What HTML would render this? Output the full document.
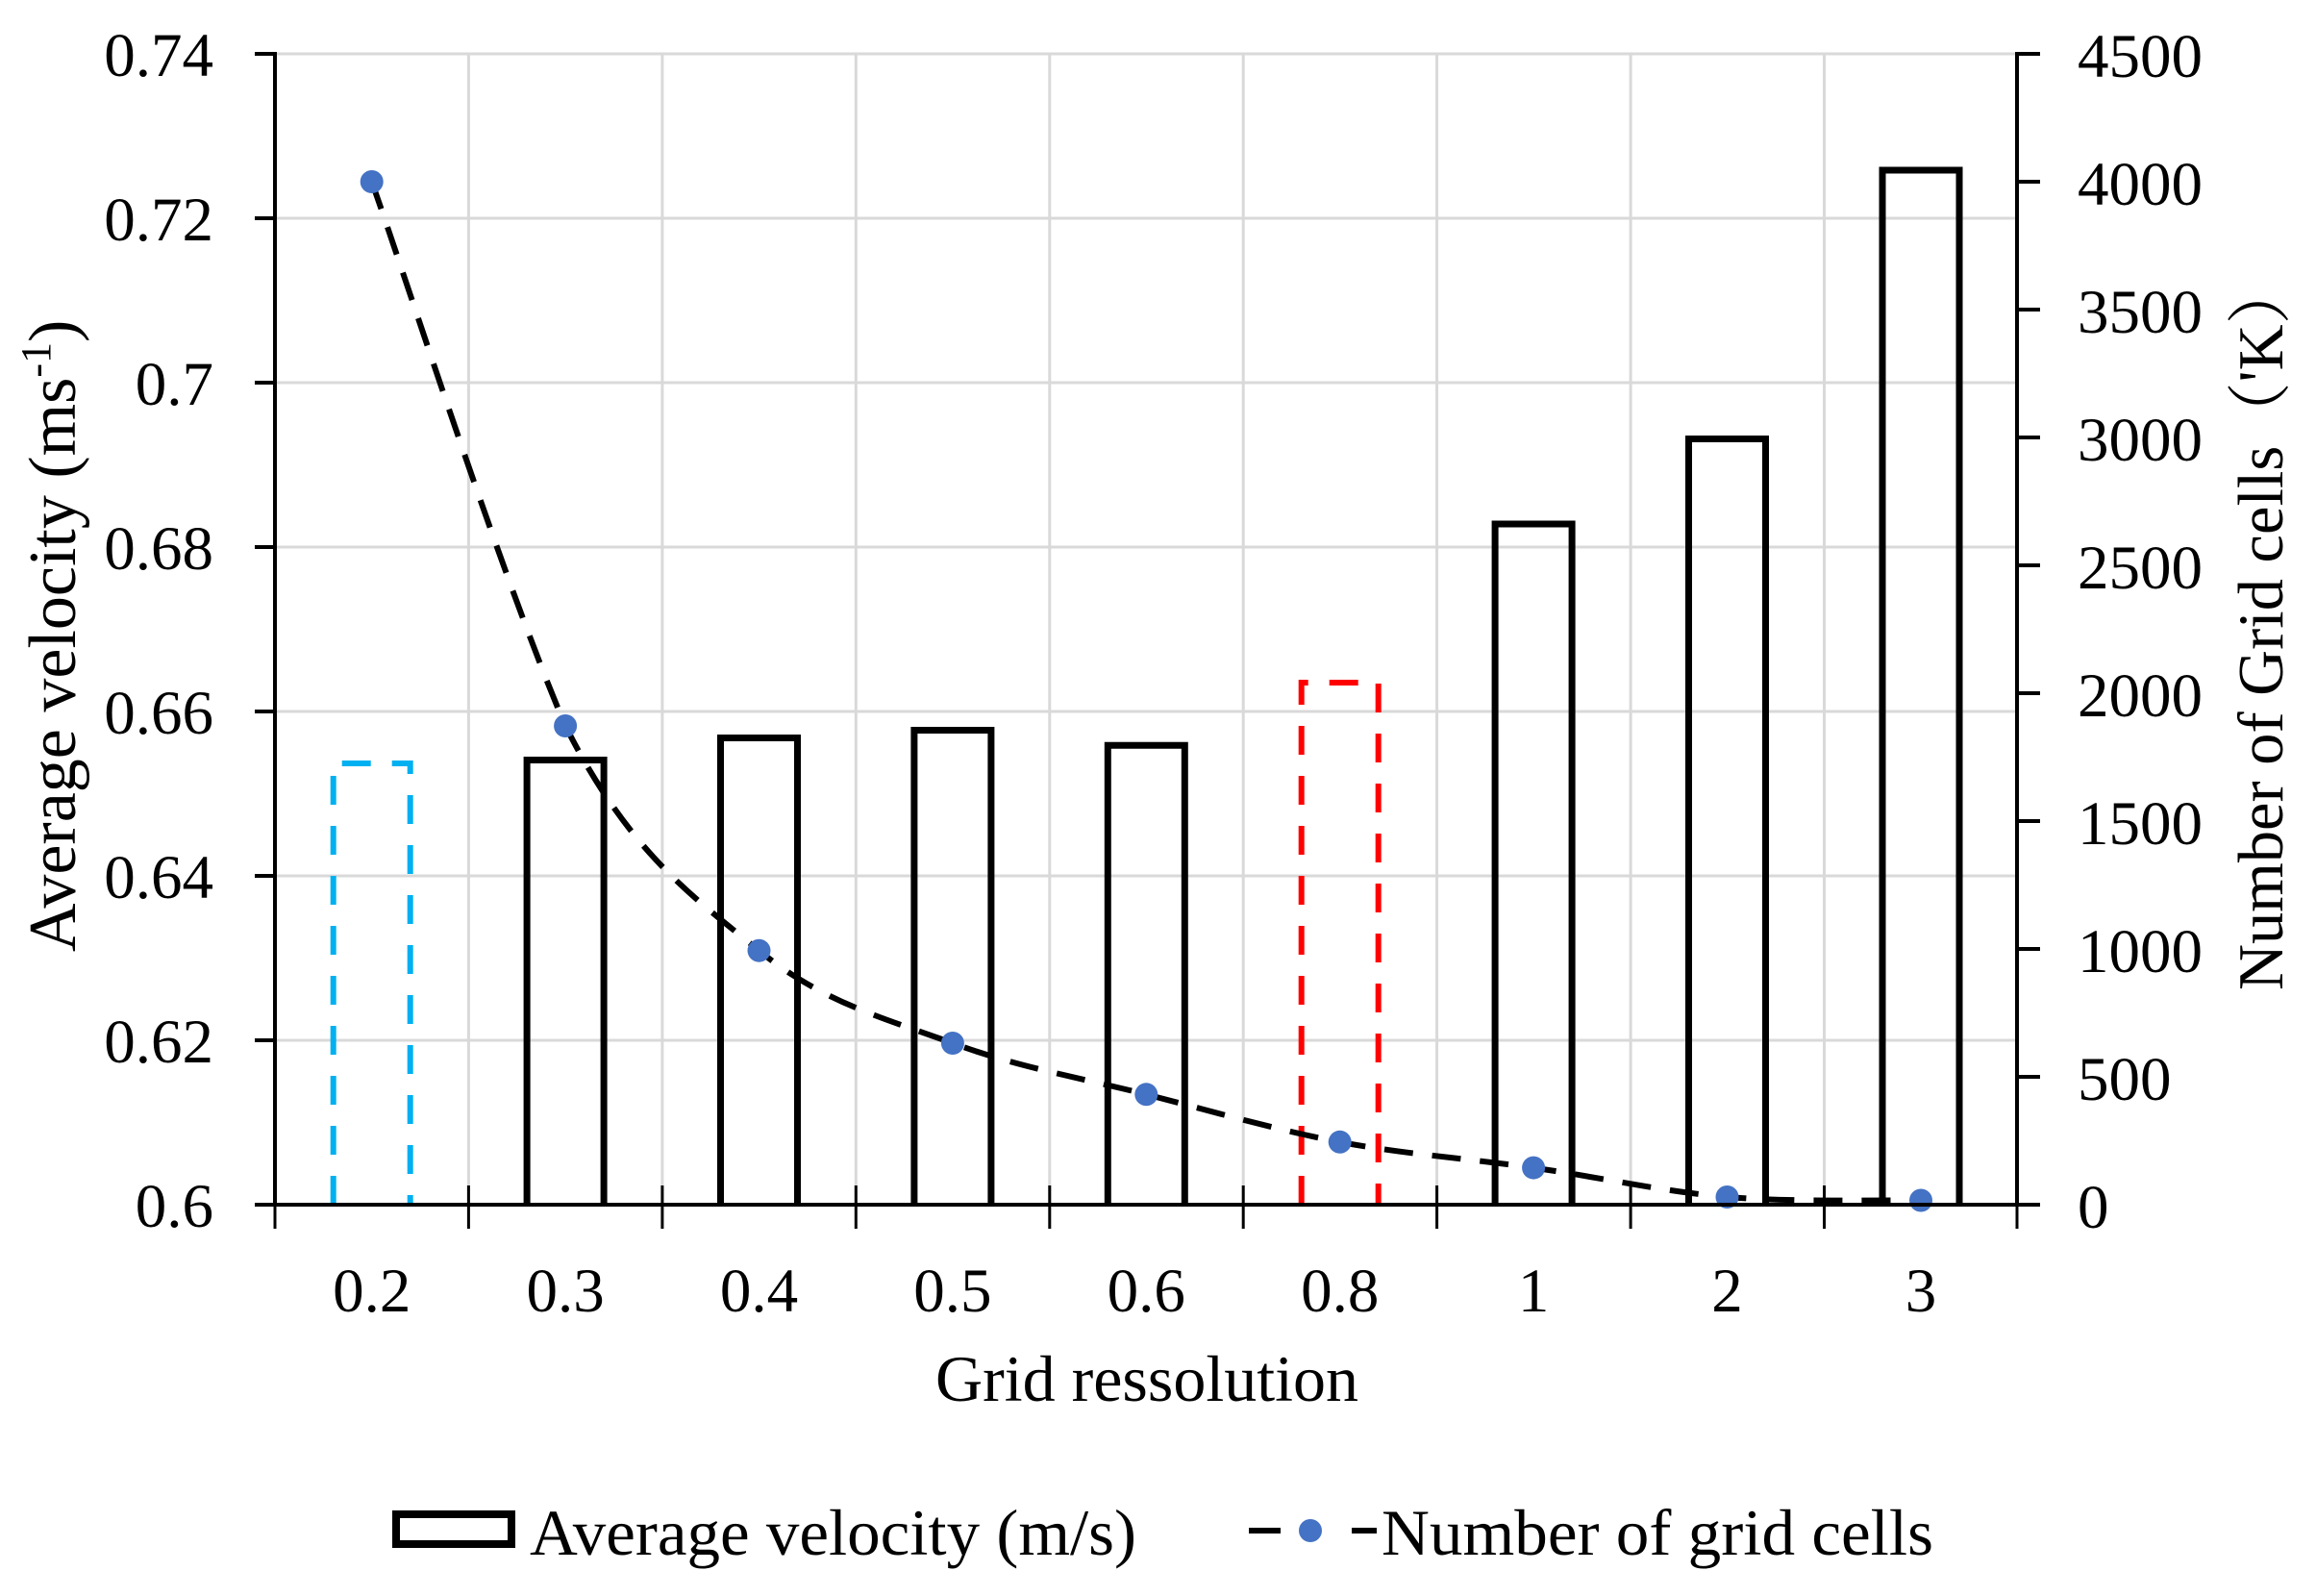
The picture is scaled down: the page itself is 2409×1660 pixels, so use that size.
<!DOCTYPE html>
<html>
<head>
<meta charset="utf-8">
<style>
  html, body { margin: 0; padding: 0; background: #ffffff; }
  svg { display: block; }
  text { font-family: "Liberation Serif", "Noto Serif CJK SC", serif; fill: #000; }
</style>
</head>
<body>
<svg width="2409" height="1660" viewBox="0 0 2409 1660" xmlns="http://www.w3.org/2000/svg">
  <rect x="0" y="0" width="2409" height="1660" fill="#ffffff"/>

  <!-- gridlines -->
  <g stroke="#D9D9D9" stroke-width="3" fill="none">
    <line x1="286" y1="56" x2="2098" y2="56"/>
    <line x1="286" y1="227" x2="2098" y2="227"/>
    <line x1="286" y1="398" x2="2098" y2="398"/>
    <line x1="286" y1="569" x2="2098" y2="569"/>
    <line x1="286" y1="740" x2="2098" y2="740"/>
    <line x1="286" y1="911" x2="2098" y2="911"/>
    <line x1="286" y1="1082" x2="2098" y2="1082"/>
    <line x1="487.4" y1="56" x2="487.4" y2="1253"/>
    <line x1="688.9" y1="56" x2="688.9" y2="1253"/>
    <line x1="890.3" y1="56" x2="890.3" y2="1253"/>
    <line x1="1091.8" y1="56" x2="1091.8" y2="1253"/>
    <line x1="1293.2" y1="56" x2="1293.2" y2="1253"/>
    <line x1="1494.6" y1="56" x2="1494.6" y2="1253"/>
    <line x1="1696.1" y1="56" x2="1696.1" y2="1253"/>
    <line x1="1897.5" y1="56" x2="1897.5" y2="1253"/>
  </g>

  <!-- bars -->
  <g fill="none" stroke-width="7">
    <path d="M346.7,1253 V794 H426.7 V1253" stroke="#00B0F0" stroke-width="6" stroke-dasharray="30 22"/>
    <path d="M548.1,1253 V790.5 H628.1 V1253" stroke="#000"/>
    <path d="M749.5,1253 V767.5 H829.5 V1253" stroke="#000"/>
    <path d="M950.9,1253 V759.5 H1030.9 V1253" stroke="#000"/>
    <path d="M1152.3,1253 V775.3 H1232.3 V1253" stroke="#000"/>
    <path d="M1353.7,1253 V710 H1433.7 V1253" stroke="#FF0000" stroke-width="6" stroke-dasharray="30 22"/>
    <path d="M1555.1,1253 V545 H1635.1 V1253" stroke="#000"/>
    <path d="M1756.5,1253 V456.5 H1836.5 V1253" stroke="#000"/>
    <path d="M1958,1253 V177 H2038 V1253" stroke="#000"/>
  </g>

  <!-- dashed smooth line -->
  <path d="M386.7,189 C420.3,283.3 521.0,598 588.1,755 C655.2,888.3 722.4,933.7 789.5,988.7 C856.6,1043.7 923.8,1060.1 990.9,1085 C1058.0,1109.9 1125.2,1121.2 1192.3,1138.3 C1259.4,1155.4 1326.6,1175.1 1393.7,1187.8 C1460.8,1200.5 1528.0,1205.1 1595.1,1214.6 C1662.2,1224.1 1729.4,1239.4 1796.5,1245 C1863.7,1250.6 1964.4,1247.9 1998,1248.5"
        fill="none" stroke="#000" stroke-width="6" stroke-dasharray="30 20"/>

  <!-- markers -->
  <g fill="#4472C4">
    <circle cx="386.7" cy="189" r="12"/>
    <circle cx="588.1" cy="755" r="12"/>
    <circle cx="789.5" cy="988.7" r="12"/>
    <circle cx="990.9" cy="1085" r="12"/>
    <circle cx="1192.3" cy="1138.3" r="12"/>
    <circle cx="1393.7" cy="1187.8" r="12"/>
    <circle cx="1595.1" cy="1214.6" r="12"/>
    <circle cx="1796.5" cy="1245" r="12"/>
    <circle cx="1998" cy="1248.5" r="12"/>
  </g>

  <!-- axes -->
  <g stroke="#000" fill="none">
    <line x1="286" y1="54" x2="286" y2="1255" stroke-width="4"/>
    <line x1="2098" y1="54" x2="2098" y2="1255" stroke-width="4"/>
    <line x1="265" y1="1253" x2="2122" y2="1253" stroke-width="4"/>
    <g stroke-width="4">
      <line x1="265" y1="56" x2="286" y2="56"/>
      <line x1="265" y1="227" x2="286" y2="227"/>
      <line x1="265" y1="398" x2="286" y2="398"/>
      <line x1="265" y1="569" x2="286" y2="569"/>
      <line x1="265" y1="740" x2="286" y2="740"/>
      <line x1="265" y1="911" x2="286" y2="911"/>
      <line x1="265" y1="1082" x2="286" y2="1082"/>
      <line x1="2098" y1="56" x2="2122" y2="56"/>
      <line x1="2098" y1="189" x2="2122" y2="189"/>
      <line x1="2098" y1="322" x2="2122" y2="322"/>
      <line x1="2098" y1="455" x2="2122" y2="455"/>
      <line x1="2098" y1="588" x2="2122" y2="588"/>
      <line x1="2098" y1="721" x2="2122" y2="721"/>
      <line x1="2098" y1="854" x2="2122" y2="854"/>
      <line x1="2098" y1="987" x2="2122" y2="987"/>
      <line x1="2098" y1="1120" x2="2122" y2="1120"/>
    </g>
    <g stroke-width="3">
      <line x1="286" y1="1233" x2="286" y2="1278"/>
      <line x1="487.4" y1="1233" x2="487.4" y2="1278"/>
      <line x1="688.9" y1="1233" x2="688.9" y2="1278"/>
      <line x1="890.3" y1="1233" x2="890.3" y2="1278"/>
      <line x1="1091.8" y1="1233" x2="1091.8" y2="1278"/>
      <line x1="1293.2" y1="1233" x2="1293.2" y2="1278"/>
      <line x1="1494.6" y1="1233" x2="1494.6" y2="1278"/>
      <line x1="1696.1" y1="1233" x2="1696.1" y2="1278"/>
      <line x1="1897.5" y1="1233" x2="1897.5" y2="1278"/>
      <line x1="2098" y1="1233" x2="2098" y2="1278"/>
    </g>
  </g>

  <!-- left tick labels -->
  <g font-size="65" text-anchor="end">
    <text x="222" y="79">0.74</text>
    <text x="222" y="250">0.72</text>
    <text x="222" y="421">0.7</text>
    <text x="222" y="592">0.68</text>
    <text x="222" y="763">0.66</text>
    <text x="222" y="934">0.64</text>
    <text x="222" y="1105">0.62</text>
    <text x="222" y="1276">0.6</text>
  </g>

  <!-- right tick labels -->
  <g font-size="65" text-anchor="start">
    <text x="2161" y="80">4500</text>
    <text x="2161" y="213">4000</text>
    <text x="2161" y="346">3500</text>
    <text x="2161" y="479">3000</text>
    <text x="2161" y="612">2500</text>
    <text x="2161" y="745">2000</text>
    <text x="2161" y="878">1500</text>
    <text x="2161" y="1011">1000</text>
    <text x="2161" y="1144">500</text>
    <text x="2161" y="1277">0</text>
  </g>

  <!-- x tick labels -->
  <g font-size="65" text-anchor="middle">
    <text x="386.7" y="1364">0.2</text>
    <text x="588.1" y="1364">0.3</text>
    <text x="789.5" y="1364">0.4</text>
    <text x="990.9" y="1364">0.5</text>
    <text x="1192.3" y="1364">0.6</text>
    <text x="1393.7" y="1364">0.8</text>
    <text x="1595.1" y="1364">1</text>
    <text x="1796.5" y="1364">2</text>
    <text x="1998" y="1364">3</text>
  </g>

  <!-- axis titles -->
  <text x="973" y="1457" font-size="68" textLength="440" lengthAdjust="spacingAndGlyphs">Grid ressolution</text>

  <g transform="translate(78,990) rotate(-90)">
    <text x="0" y="0" font-size="70">Average velocity (ms<tspan font-size="44" dy="-26">-1</tspan><tspan dy="26">)</tspan></text>
  </g>

  <g transform="translate(2374,1030) rotate(-90)">
    <text x="0" y="0" font-size="67" textLength="759" lengthAdjust="spacingAndGlyphs">Number of Grid cells（'K）</text>
  </g>

  <!-- legend -->
  <rect x="412" y="1575" width="120" height="31" fill="#fff" stroke="#000" stroke-width="8"/>
  <text x="551" y="1617" font-size="68" textLength="631" lengthAdjust="spacingAndGlyphs">Average velocity (m/s)</text>

  <line x1="1299" y1="1592" x2="1332" y2="1592" stroke="#000" stroke-width="6"/>
  <line x1="1406" y1="1592" x2="1432" y2="1592" stroke="#000" stroke-width="6"/>
  <circle cx="1363" cy="1592" r="12" fill="#4472C4"/>
  <text x="1437" y="1617" font-size="68" textLength="574" lengthAdjust="spacingAndGlyphs">Number of grid cells</text>
</svg>
</body>
</html>
